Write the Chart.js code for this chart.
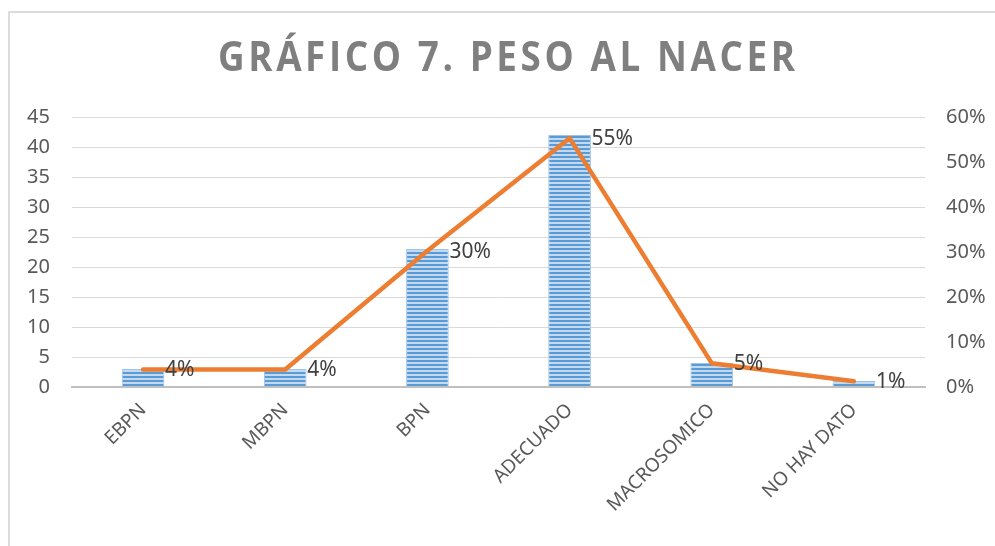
<!DOCTYPE html>
<html>
<head>
<meta charset="utf-8">
<script src="https://cdn.jsdelivr.net/npm/chart.js@4"></script>
<style>
  html, body { margin: 0; padding: 0; background: #fff; }
  #marco { position: absolute; left: 8px; top: 11px; width: 1000px; height: 550px; border: 2px solid #dcdcdc; box-sizing: border-box; }
  #contenedor { position: absolute; left: 0; top: 0; width: 995px; height: 546px; }
</style>
</head>
<body>
<div id="marco"></div>
<div id="contenedor"><canvas id="miGrafico" width="995" height="546"></canvas></div>
<script>
// Datos del gráfico
const categorias = ['EBPN', 'MBPN', 'BPN', 'ADECUADO', 'MACROSOMICO', 'NO HAY DATO'];
const cantidades = [3, 3, 23, 42, 4, 1];
const porcentajes = [3.9, 3.9, 30.3, 55.3, 5.3, 1.3];
const etiquetasPorcentaje = ['4%', '4%', '30%', '55%', '5%', '1%'];
const titulo = 'GRÁFICO 7. PESO AL NACER';

// Relleno rayado de las barras
function crearRayado() {
    const c = document.createElement('canvas');
    c.width = 4; c.height = 4;
    const g = c.getContext('2d');
    g.fillStyle = '#5b9bd5';
    g.fillRect(0, 0, 4, 2);
    g.fillStyle = '#c2d9ef';
    g.fillRect(0, 2, 4, 2);
    return g.createPattern(c, 'repeat');
}

// Título con espaciado entre letras (letra estrecha tipo Calibri)
const pluginTitulo = {
    id: 'tituloEspaciado',
    afterDraw(chart) {
        const ctx = chart.ctx;
        ctx.save();
        ctx.font = 'bold 41px "Open Sans"';
        ctx.fillStyle = '#7f7f7f';
        ctx.textAlign = 'left';
        ctx.textBaseline = 'middle';
        ctx.letterSpacing = '4px';
        const ancho = ctx.measureText(titulo).width - 4;
        const escala = 577 / ancho;
        ctx.translate(218, 59);
        ctx.scale(escala, 1);
        ctx.fillText(titulo, 0, 0);
        ctx.restore();
    }
};

// Etiquetas de porcentaje junto a la línea
const pluginEtiquetas = {
    id: 'etiquetasLinea',
    afterDatasetsDraw(chart) {
        const ctx = chart.ctx;
        const meta = chart.getDatasetMeta(1);
        ctx.save();
        ctx.font = '21px "Noto Sans"';
        ctx.fillStyle = '#404040';
        ctx.textAlign = 'left';
        ctx.textBaseline = 'middle';
        meta.data.forEach((p, i) => {
            ctx.fillText(etiquetasPorcentaje[i], p.x + 22, p.y + 1);
        });
        ctx.restore();
    }
};

const fuenteEjes = { family: '"Noto Sans"', size: 20 };

var ctx = document.getElementById('miGrafico').getContext('2d');
var miGrafico = new Chart(ctx, {
    data: {
        labels: categorias,
        datasets: [{
            type: 'bar',
            label: 'Cantidad',
            data: cantidades,
            backgroundColor: crearRayado(),
            borderColor: '#9dc3e6',
            borderWidth: 1,
            barPercentage: 0.3,
            categoryPercentage: 1,
            yAxisID: 'y',
            order: 1
        }, {
            type: 'line',
            label: 'Porcentaje',
            data: porcentajes,
            borderColor: '#ed7d31',
            borderWidth: 4.5,
            borderCapStyle: 'round',
            borderJoinStyle: 'round',
            pointRadius: 0,
            fill: false,
            tension: 0,
            yAxisID: 'y1',
            order: 0
        }]
    },
    options: {
        responsive: false,
        animation: false,
        layout: { padding: { top: 117, left: 0, right: 0, bottom: 0 } },
        plugins: {
            legend: { display: false },
            title: { display: false },
            tooltip: { enabled: false }
        },
        scales: {
            x: {
                grid: { display: false },
                border: { display: true, color: '#bfbfbf', width: 2 },
                ticks: {
                    color: '#595959',
                    font: { family: '"Noto Sans"', size: 19 },
                    minRotation: 45,
                    maxRotation: 45,
                    padding: 4,
                    labelOffset: 0
                },
                afterFit(s) { s.height = 159; }
            },
            y: {
                position: 'left',
                min: 0,
                max: 45,
                ticks: { stepSize: 5, color: '#595959', font: fuenteEjes, padding: 22 },
                grid: {
                    drawTicks: false,
                    color: c => c.tick && c.tick.value === 0 ? '#bfbfbf' : '#d9d9d9',
                    lineWidth: c => c.tick && c.tick.value === 0 ? 2 : 1
                },
                border: { display: false },
                afterFit(s) { s.width = 72; }
            },
            y1: {
                position: 'right',
                min: 0,
                max: 60,
                ticks: {
                    stepSize: 10,
                    color: '#595959',
                    font: fuenteEjes,
                    padding: 21,
                    callback: v => v + '%'
                },
                grid: { display: false, drawTicks: false },
                border: { display: false },
                afterFit(s) { s.width = 70; }
            }
        }
    },
    plugins: [pluginTitulo, pluginEtiquetas]
});
</script>
</body>
</html>
